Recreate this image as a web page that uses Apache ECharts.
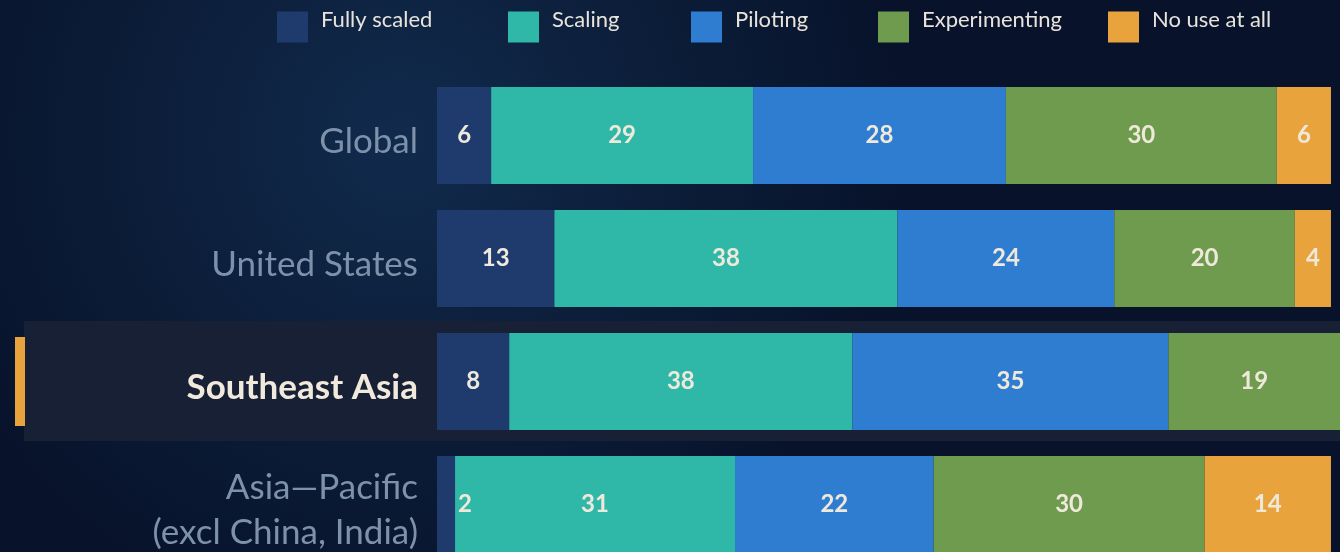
<!DOCTYPE html>
<html>
<head>
<meta charset="utf-8">
<script src="https://cdn.jsdelivr.net/npm/echarts@6/dist/echarts.min.js"></script>
<style>
  html, body { margin: 0; padding: 0; }
  #chart { width: 1340px; height: 552px; }
</style>
</head>
<body>
<div id="chart"></div>
<script>
let regions = ['Global', 'United States', 'Southeast Asia', 'Asia\u2014Pacific\n(excl China, India)'];

let fullyScaled = [6, 13, 8, 2];
let scaling = [29, 38, 38, 31];
let piloting = [28, 24, 35, 22];
let experimenting = [30, 20, 19, 30];
let noUse = [6, 4, 0, 14];

let seriesNames = ['Fully scaled', 'Scaling', 'Piloting', 'Experimenting', 'No use at all'];
let seriesColors = ['#1f3a6d', '#2fb8a8', '#2f7dd0', '#6e9b4e', '#e8a33c'];
let highlight = 'Southeast Asia';

let legendLeft = [277, 508, 691, 878, 1108];

function makeSeries(i, values) {
    return {
        name: seriesNames[i],
        type: 'bar',
        stack: 'total',
        barWidth: 97,
        itemStyle: { color: seriesColors[i] },
        label: {
            show: true,
            position: 'inside',
            color: '#efe9dc',
            fontFamily: 'Lato',
            fontWeight: 'bold',
            fontSize: 24,
            formatter: function (p) { return p.value > 0 ? p.value : ''; }
        },
        data: values.map(function (v) {
            // the tiny Asia-Pacific slice has its label pushed past the segment
            if (i === 0 && v < 4) {
                return { value: v, label: { offset: [19, 0] } };
            }
            return v;
        })
    };
}

let chart = echarts.init(document.getElementById('chart'));

let option = {
    backgroundColor: {
        type: 'radial', x: 0.3, y: 0.25, r: 0.9,
        colorStops: [
            { offset: 0, color: '#112b4d' },
            { offset: 0.5, color: '#0c1e3a' },
            { offset: 1, color: '#08132b' }
        ]
    },
    animation: false,
    graphic: [
        {
            type: 'rect', z: -1,
            shape: { x: 24, y: 321, width: 1316, height: 120 },
            style: { fill: '#172034' }
        },
        {
            type: 'rect', z: -1,
            shape: { x: 15, y: 337, width: 10, height: 89 },
            style: { fill: '#e8a33c' }
        }
    ],
    legend: seriesNames.map(function (n, i) {
        return {
            data: [n],
            left: legendLeft[i],
            top: 9,
            padding: 0,
            itemWidth: 31,
            itemHeight: 31,
            icon: 'rect',
            formatter: '{t|{name}}',
            textStyle: {
                color: '#e8e4dc', fontSize: 22, fontFamily: 'Lato',
                rich: { t: { color: '#e8e4dc', fontSize: 22, fontFamily: 'Lato', padding: [0, 0, 14, 8] } }
            }
        };
    }),
    grid: { left: 437, right: 0, top: 74, height: 492, outerBoundsMode: 'none', containLabel: false },
    xAxis: {
        type: 'value',
        min: 0,
        max: 100,
        show: false
    },
    yAxis: {
        type: 'category',
        inverse: true,
        data: regions,
        axisLine: { show: false },
        axisTick: { show: false },
        axisLabel: {
            margin: 19,
            padding: [12, 0, 0, 0],
            fontFamily: 'Lato',
            fontSize: 35,
            lineHeight: 45,
            color: '#7e91aa',
            formatter: function (v) {
                return v === highlight ? '{hl|' + v + '}' : v;
            },
            rich: {
                hl: { color: '#f1e9dc', fontWeight: 'bold', fontSize: 35, fontFamily: 'Lato' }
            }
        }
    },
    series: [
        makeSeries(0, fullyScaled),
        makeSeries(1, scaling),
        makeSeries(2, piloting),
        makeSeries(3, experimenting),
        makeSeries(4, noUse)
    ]
};

chart.setOption(option);
</script>
</body>
</html>
